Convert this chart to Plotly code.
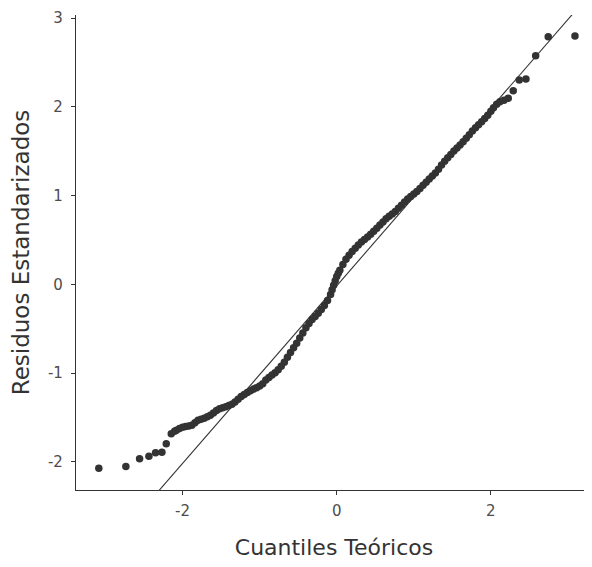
import plotly.graph_objects as go

# Theoretical quantiles (x) and standardized residuals (y)
teoricos = [
    -3.087, -2.736, -2.558, -2.437, -2.351, -2.268, -2.212, -2.147, -2.104,
    -2.080, -2.040, -2.000, -1.960, -1.920, -1.880, -1.840, -1.800, -1.760, -1.720,
    -1.680, -1.640, -1.600, -1.560, -1.520, -1.480, -1.440, -1.400, -1.360, -1.320,
    -1.280, -1.240, -1.200, -1.160, -1.120, -1.080, -1.040, -1.000, -0.960, -0.920,
    -0.880, -0.840, -0.800, -0.760, -0.720, -0.680, -0.640, -0.600, -0.560, -0.520,
    -0.480, -0.440, -0.400, -0.360, -0.320, -0.280, -0.240, -0.200, -0.160, -0.120,
    -0.080, -0.060, -0.040, -0.020, 0.000, 0.020, 0.040, 0.080, 0.120, 0.160,
    0.200, 0.240, 0.280, 0.320, 0.360, 0.400, 0.440, 0.480, 0.520, 0.560,
    0.600, 0.640, 0.680, 0.720, 0.760, 0.800, 0.840, 0.880, 0.920, 0.960,
    1.000, 1.040, 1.080, 1.120, 1.160, 1.200, 1.240, 1.280, 1.320, 1.360,
    1.400, 1.440, 1.480, 1.520, 1.560, 1.600, 1.640, 1.680, 1.720, 1.760,
    1.800, 1.840, 1.880, 1.920, 1.960, 2.000, 2.034, 2.075, 2.117, 2.170,
    2.225, 2.290, 2.368, 2.455, 2.581, 2.744, 3.091,
]
residuos = [
    -2.070, -2.050, -1.964, -1.935, -1.896, -1.890, -1.795, -1.682, -1.653,
    -1.642, -1.624, -1.610, -1.602, -1.596, -1.587, -1.559, -1.531, -1.520, -1.508,
    -1.491, -1.474, -1.449, -1.420, -1.401, -1.389, -1.377, -1.363, -1.349, -1.324,
    -1.294, -1.263, -1.241, -1.219, -1.197, -1.179, -1.163, -1.146, -1.118, -1.077,
    -1.048, -1.022, -0.996, -0.962, -0.923, -0.877, -0.821, -0.767, -0.715, -0.663,
    -0.605, -0.548, -0.489, -0.441, -0.397, -0.362, -0.326, -0.282, -0.238, -0.183,
    -0.113, -0.060, -0.009, 0.042, 0.090, 0.125, 0.159, 0.224, 0.282, 0.328,
    0.371, 0.408, 0.443, 0.477, 0.505, 0.534, 0.564, 0.598, 0.633, 0.668,
    0.703, 0.738, 0.766, 0.793, 0.822, 0.857, 0.892, 0.927, 0.962, 0.990,
    1.018, 1.046, 1.081, 1.116, 1.151, 1.186, 1.220, 1.254, 1.297, 1.345,
    1.388, 1.426, 1.464, 1.501, 1.536, 1.570, 1.605, 1.646, 1.686, 1.727,
    1.763, 1.798, 1.833, 1.867, 1.905, 1.949, 1.990, 2.030, 2.056, 2.075,
    2.095, 2.180, 2.301, 2.312, 2.575, 2.789, 2.797,
]

# Reference line (qq line)
linea_intercepto = -0.016
linea_pendiente = 1.0

x_ticks = [-2, 0, 2]
x_tick_labels = ["-2", "0", "2"]
y_ticks = [-2, -1, 0, 1, 2, 3]
y_tick_labels = ["-2", "-1", "0", "1", "2", "3"]

FONT = "DejaVu Sans"
INK = "#333333"

line_x = [min(teoricos), max(teoricos)]
line_y = [linea_intercepto + linea_pendiente * v for v in line_x]

fig = go.Figure()
fig.add_trace(go.Scatter(
    x=teoricos, y=residuos, mode="markers",
    marker=dict(color=INK, size=7.5, line=dict(width=0)),
    hoverinfo="skip", showlegend=False,
))
fig.add_trace(go.Scatter(
    x=line_x, y=line_y, mode="lines",
    line=dict(color=INK, width=1.1),
    hoverinfo="skip", showlegend=False,
))

axis_common = dict(
    showgrid=False, zeroline=False, showline=True,
    linecolor=INK, linewidth=1.2,
    ticks="outside", ticklen=4, tickwidth=1.2, tickcolor=INK,
    tickfont=dict(family=FONT, size=15, color="#4D4D4D"),
)

fig.update_layout(
    width=584, height=559,
    margin=dict(l=68, r=0, t=7, b=77),
    paper_bgcolor="white", plot_bgcolor="white",
    xaxis=dict(
        range=[-3.383, 3.312], tickvals=x_ticks, ticktext=x_tick_labels,
        ticklabelstandoff=3,
        title=dict(text="Cuantiles Teóricos", standoff=20,
                   font=dict(family=FONT, size=22, color="#333333")),
        **axis_common,
    ),
    yaxis=dict(
        range=[-2.316, 3.034], tickvals=y_ticks, ticktext=y_tick_labels,
        ticklabelstandoff=5,
        title=dict(text="Residuos Estandarizados", standoff=12,
                   font=dict(family=FONT, size=23, color="#333333")),
        **axis_common,
    ),
)

fig.write_html("out.html")
